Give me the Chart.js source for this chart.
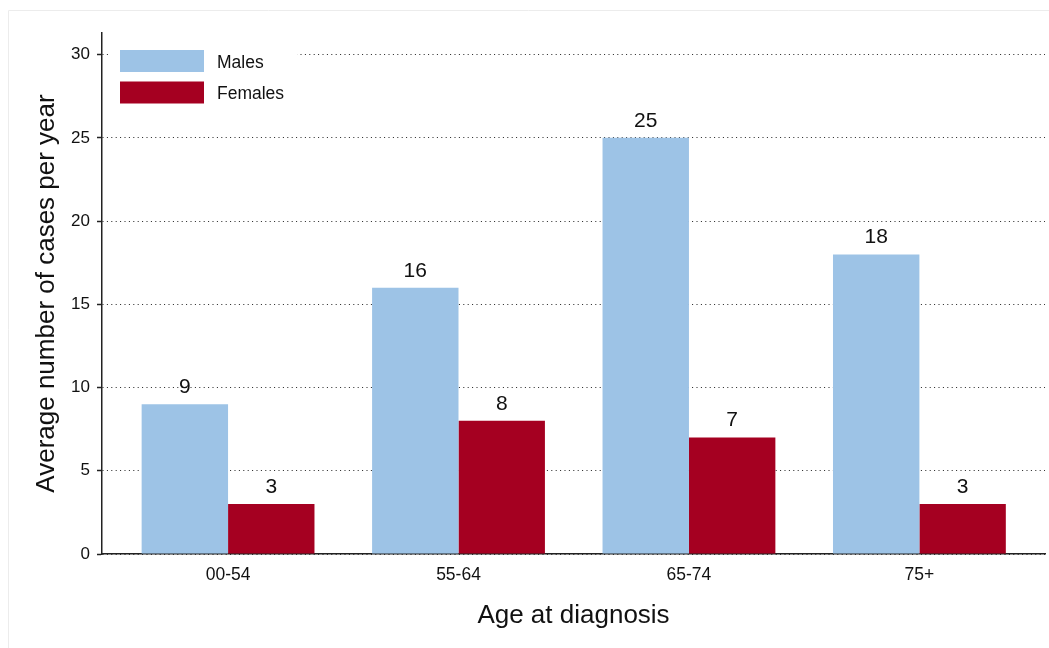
<!DOCTYPE html>
<html>
<head>
<meta charset="utf-8">
<script src="https://cdn.jsdelivr.net/npm/chart.js@4"></script>
<style>
  html, body { margin: 0; padding: 0; background: #ffffff; }
  #wrap { width: 1049px; height: 648px; position: relative; }
</style>
</head>
<body>
<div id="wrap"><canvas id="c" width="1049" height="648"></canvas></div>
<script>
// ---- data ----
const categories = ['00-54', '55-64', '65-74', '75+'];
const males = [9, 16, 25, 18];
const females = [3, 8, 7, 3];
const seriesNames = ['Males', 'Females'];
const yTicks = [0, 5, 10, 15, 20, 25, 30];
const xTitle = 'Age at diagnosis';
const yTitle = 'Average number of cases per year';

const FONT = "'Liberation Sans', Arial, sans-serif";
const colMales = '#9dc3e6';
const colFemales = '#a50021';

const frame = {
  id: 'frame',
  beforeDraw(chart) {
    const ctx = chart.ctx;
    ctx.save();
    ctx.strokeStyle = '#ececec';
    ctx.lineWidth = 1;
    ctx.beginPath();
    ctx.moveTo(8.5, 648); ctx.lineTo(8.5, 10.5); ctx.lineTo(1049, 10.5);
    ctx.stroke();
    ctx.restore();
  }
};

const valueLabels = {
  id: 'valueLabels',
  afterDatasetsDraw(chart) {
    const ctx = chart.ctx;
    ctx.save();
    ctx.font = '21px ' + FONT;
    ctx.fillStyle = '#111';
    ctx.textAlign = 'center';
    ctx.textBaseline = 'alphabetic';
    chart.data.datasets.forEach((ds, di) => {
      const meta = chart.getDatasetMeta(di);
      meta.data.forEach((bar, i) => {
        ctx.fillText(String(ds.data[i].y), bar.x, bar.y - 11);
      });
    });
    ctx.restore();
  }
};

const insideLegend = {
  id: 'insideLegend',
  afterDatasetsDraw(chart) {
    const ctx = chart.ctx;
    ctx.save();
    ctx.fillStyle = '#ffffff';
    ctx.fillRect(110, 40, 187, 74);
    chart.data.datasets.forEach((ds, i) => {
      const y = 50 + i * 31.5;
      ctx.fillStyle = ds.backgroundColor;
      ctx.fillRect(120, y, 84, 22);
      ctx.fillStyle = '#111';
      ctx.font = '17.5px ' + FONT;
      ctx.textAlign = 'left';
      ctx.textBaseline = 'middle';
      ctx.fillText(ds.label, 217, y + 13);
    });
    ctx.restore();
  }
};

new Chart(document.getElementById('c'), {
  type: 'bar',
  data: {
    datasets: [
      { label: seriesNames[0], data: categories.map((c, i) => ({ x: i, y: males[i] })), backgroundColor: colMales, borderWidth: 0 },
      { label: seriesNames[1], data: categories.map((c, i) => ({ x: i, y: females[i] })), backgroundColor: colFemales, borderWidth: 0 }
    ]
  },
  options: {
    responsive: false,
    animation: false,
    devicePixelRatio: 1,
    layout: { padding: { left: 0, right: 4, top: 33, bottom: 0 } },
    datasets: { bar: { categoryPercentage: 0.75, barPercentage: 1.0 } },
    plugins: {
      legend: { display: false },
      tooltip: { enabled: false },
      title: { display: false }
    },
    scales: {
      x: {
        type: 'linear',
        offset: false,
        min: -0.547,
        max: 3.545,
        z: 1,
        afterBuildTicks(scale) { scale.ticks = categories.map((c, i) => ({ value: i })); },
        afterFit(scale) { scale.height = 94; },
        grid: { display: false, drawTicks: false, offset: false },
        border: { display: true, color: '#222', width: 1.5 },
        ticks: {
          autoSkip: false,
          maxRotation: 0,
          padding: 11,
          color: '#111',
          font: { family: FONT, size: 17.5 },
          callback: (v) => categories[v] ?? ''
        },
        title: {
          display: true,
          text: xTitle,
          color: '#111',
          font: { family: FONT, size: 26 },
          padding: { top: 0, bottom: 17 }
        }
      },
      y: {
        min: 0,
        max: 31.3,
        afterBuildTicks(scale) { scale.ticks = yTicks.map(v => ({ value: v })); },
        afterFit(scale) { scale.width = 102; },
        grid: {
          color: '#222',
          lineWidth: 1,
          drawTicks: true,
          tickLength: 5,
          tickColor: '#222',
          tickWidth: 1.5
        },
        border: { display: true, color: '#222', width: 1.5, dash: [1, 3.4] },
        ticks: {
          padding: 7,
          color: '#111',
          font: { family: FONT, size: 17 }
        },
        title: {
          display: true,
          text: yTitle,
          color: '#111',
          font: { family: FONT, size: 26 },
          padding: { top: 31, bottom: 0 }
        }
      }
    }
  },
  plugins: [frame, insideLegend, valueLabels]
});
</script>
</body>
</html>
